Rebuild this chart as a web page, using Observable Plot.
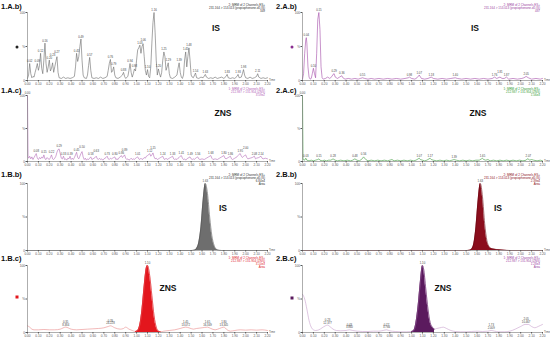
<!DOCTYPE html>
<html><head><meta charset="utf-8">
<script src="https://cdn.jsdelivr.net/npm/d3@7"></script>
<script src="https://cdn.jsdelivr.net/npm/@observablehq/plot@0.6"></script>
<style>
body{margin:0;background:#fff;}
#wrap{position:relative;width:550px;height:343px;overflow:hidden;font-family:"Liberation Sans",Arial,sans-serif;background:#fff;}
.panel{position:absolute;}
.lab{position:absolute;font-weight:bold;font-size:7.5px;color:#111;white-space:nowrap;line-height:8px;}
.cmp{position:absolute;font-weight:bold;font-size:8.5px;color:#111;transform:translate(-50%,-50%);}
.hdr{position:absolute;font-size:3px;line-height:3px;text-align:right;white-space:nowrap;}
.mk{position:absolute;width:3px;height:3px;transform:translate(-50%,-50%);}
</style></head><body><div id="wrap"></div>
<script>
// ---------- data ----------
const xTicks = [0,0.1,0.2,0.3,0.4,0.5,0.6,0.7,0.8,0.9,1.0,1.1,1.2,1.3,1.4,1.5,1.6,1.7,1.8,1.9,2.0,2.1,2.2];
const yTicks = [0,50,100];

// 1.A.b  blank, IS channel (grey)
const trace1Ab = [[0,3],[0.01,8],[0.02,25],[0.03,10],[0.04,4],[0.05,6],[0.06,5],[0.07,12],[0.08,18],[0.09,25],[0.10,15],[0.11,22],[0.12,40],[0.13,18],[0.14,10],[0.15,30],[0.16,55],[0.17,25],[0.18,12],[0.19,20],[0.20,30],[0.21,14],[0.22,18],[0.23,26],[0.24,12],[0.25,20],[0.26,28],[0.27,35],[0.28,12],[0.29,4],[0.31,3],[0.33,5],[0.35,3],[0.37,4],[0.39,3],[0.41,4],[0.43,6],[0.44,20],[0.45,40],[0.46,28],[0.47,35],[0.48,50],[0.49,61],[0.50,30],[0.51,8],[0.52,4],[0.54,3],[0.55,8],[0.56,22],[0.57,34],[0.58,15],[0.59,4],[0.61,3],[0.63,4],[0.65,3],[0.67,5],[0.69,3],[0.71,4],[0.73,6],[0.74,15],[0.75,25],[0.76,31],[0.77,12],[0.78,14],[0.79,20],[0.80,8],[0.81,4],[0.83,3],[0.85,5],[0.87,8],[0.88,12],[0.89,6],[0.90,3],[0.92,6],[0.93,15],[0.94,25],[0.95,12],[0.96,5],[0.97,10],[0.98,17],[0.99,14],[1.00,30],[1.01,45],[1.02,48],[1.03,52],[1.04,40],[1.05,50],[1.06,54],[1.07,35],[1.08,15],[1.09,8],[1.10,16],[1.11,6],[1.12,4],[1.13,20],[1.14,55],[1.15,85],[1.16,100],[1.17,70],[1.18,30],[1.19,8],[1.20,17],[1.21,10],[1.22,5],[1.23,12],[1.24,30],[1.25,42],[1.26,35],[1.27,15],[1.28,20],[1.29,26],[1.30,10],[1.31,4],[1.33,3],[1.35,5],[1.37,8],[1.38,18],[1.39,26],[1.40,12],[1.41,5],[1.42,3],[1.43,8],[1.44,30],[1.45,42],[1.46,20],[1.47,35],[1.48,48],[1.49,30],[1.50,8],[1.51,5],[1.52,4],[1.54,11],[1.55,4],[1.57,3],[1.59,5],[1.61,4],[1.63,9],[1.64,5],[1.66,3],[1.68,4],[1.70,3],[1.72,5],[1.74,3],[1.76,4],[1.78,5],[1.80,3],[1.82,6],[1.83,9],[1.84,4],[1.86,3],[1.88,4],[1.90,3],[1.92,6],[1.93,9],[1.94,4],[1.96,5],[1.97,10],[1.98,16],[1.99,8],[2.00,4],[2.02,3],[2.04,5],[2.06,3],[2.08,4],[2.10,6],[2.11,10],[2.12,5],[2.14,3],[2.16,4],[2.18,3],[2.20,4]];
const peaks1Ab = [[0.02,25],[0.09,25],[0.12,40],[0.16,55],[0.20,30],[0.23,26],[0.27,35],[0.45,40],[0.49,61],[0.57,34],[0.76,31],[0.79,20],[0.88,12],[0.94,25],[0.98,17],[1.03,52],[1.06,54],[1.10,16],[1.16,100],[1.20,17],[1.25,42],[1.29,26],[1.39,26],[1.45,42],[1.48,48],[1.54,11],[1.63,9],[1.83,9],[1.93,9],[1.98,16],[2.11,10]];
const header1Ab = ["2: MRM of 2 Channels ES+","231.164 > 153.013 (propiophenone-d5 IS)","349"];

// 2.A.b  sample, IS channel (purple)
const trace2Ab = [[0,2],[0.01,10],[0.02,40],[0.03,60],[0.035,63],[0.04,55],[0.05,20],[0.06,5],[0.07,2],[0.08,3],[0.09,10],[0.10,18],[0.11,10],[0.12,4],[0.13,40],[0.14,90],[0.15,100],[0.16,75],[0.17,20],[0.18,4],[0.19,2],[0.21,3],[0.23,5],[0.25,3],[0.27,6],[0.28,9],[0.29,10],[0.30,5],[0.32,3],[0.34,5],[0.36,7],[0.37,4],[0.39,2],[0.42,3],[0.45,2],[0.48,3],[0.51,2],[0.53,3],[0.55,4],[0.57,3],[0.60,2],[0.63,3],[0.66,2],[0.70,3],[0.74,2],[0.78,3],[0.82,2],[0.86,3],[0.90,2],[0.94,3],[0.97,4],[0.98,5],[1.00,3],[1.03,2],[1.05,4],[1.07,8],[1.09,3],[1.12,2],[1.15,3],[1.18,5],[1.20,3],[1.24,2],[1.28,3],[1.32,2],[1.36,3],[1.40,4],[1.42,3],[1.46,2],[1.50,3],[1.54,2],[1.58,3],[1.62,2],[1.66,3],[1.70,2],[1.74,3],[1.76,5],[1.78,3],[1.81,5],[1.83,3],[1.85,3],[1.87,5],[1.89,2],[1.93,3],[1.97,2],[2.01,3],[2.03,4],[2.05,6],[2.07,4],[2.10,2],[2.14,3],[2.18,2],[2.20,3]];
const peaks2Ab = [[0.035,63],[0.10,18],[0.15,100],[0.29,10],[0.36,7],[0.55,4],[0.98,5],[1.07,8],[1.18,5],[1.40,4],[1.76,5],[1.81,5],[1.87,5],[2.05,6]];
const header2Ab = ["2: MRM of 2 Channels ES+","231.164 > 153.013 (propiophenone-d5 IS)","487"];

// 1.A.c  blank, ZNS channel (purple)
const trace1Ac = [[0,100],[0.005,8],[0.01,5],[0.02,8],[0.03,4],[0.04,7],[0.05,3],[0.06,6],[0.07,9],[0.08,12],[0.09,5],[0.10,3],[0.11,6],[0.12,4],[0.13,7],[0.14,5],[0.15,10],[0.16,4],[0.17,3],[0.18,6],[0.19,4],[0.20,3],[0.21,6],[0.22,10],[0.23,4],[0.24,3],[0.25,5],[0.26,8],[0.27,14],[0.28,18],[0.29,19],[0.30,12],[0.31,5],[0.32,4],[0.33,8],[0.34,3],[0.35,4],[0.36,2],[0.37,5],[0.38,4],[0.39,8],[0.40,3],[0.41,5],[0.42,3],[0.43,6],[0.44,10],[0.45,14],[0.46,6],[0.47,4],[0.48,8],[0.49,12],[0.50,15],[0.51,7],[0.52,3],[0.53,5],[0.54,2],[0.55,4],[0.56,3],[0.57,5],[0.58,7],[0.59,3],[0.60,4],[0.61,5],[0.62,6],[0.63,8],[0.64,4],[0.65,3],[0.66,5],[0.67,3],[0.68,4],[0.69,2],[0.70,4],[0.71,5],[0.72,6],[0.73,8],[0.74,4],[0.75,3],[0.76,5],[0.77,4],[0.78,5],[0.79,6],[0.80,7],[0.81,3],[0.82,4],[0.83,3],[0.84,6],[0.85,7],[0.86,9],[0.87,6],[0.88,8],[0.89,10],[0.90,5],[0.91,3],[0.92,4],[0.93,2],[0.94,3],[0.95,5],[0.96,3],[0.97,4],[0.98,3],[0.99,5],[1.00,6],[1.01,7],[1.02,4],[1.03,3],[1.04,5],[1.05,3],[1.06,4],[1.07,6],[1.08,5],[1.09,8],[1.10,9],[1.11,10],[1.12,12],[1.13,8],[1.14,10],[1.15,13],[1.16,7],[1.17,4],[1.18,5],[1.19,3],[1.20,4],[1.21,5],[1.22,6],[1.23,7],[1.24,8],[1.25,4],[1.26,3],[1.27,5],[1.28,3],[1.29,4],[1.30,5],[1.31,6],[1.32,7],[1.33,8],[1.34,4],[1.35,3],[1.36,4],[1.37,3],[1.38,5],[1.39,6],[1.40,8],[1.41,9],[1.42,5],[1.43,3],[1.44,4],[1.45,2],[1.46,4],[1.47,5],[1.48,6],[1.49,7],[1.50,4],[1.51,3],[1.52,4],[1.53,3],[1.54,5],[1.55,6],[1.56,7],[1.57,4],[1.58,3],[1.60,4],[1.62,3],[1.64,5],[1.66,7],[1.68,9],[1.69,5],[1.70,3],[1.72,4],[1.74,3],[1.76,5],[1.78,7],[1.80,9],[1.81,5],[1.82,4],[1.84,6],[1.86,8],[1.87,4],[1.88,3],[1.90,5],[1.92,7],[1.93,9],[1.94,11],[1.95,12],[1.96,8],[1.97,6],[1.98,8],[1.99,9],[2.00,10],[2.01,6],[2.02,4],[2.04,5],[2.06,6],[2.08,8],[2.09,4],[2.10,5],[2.12,6],[2.14,8],[2.15,5],[2.16,4],[2.18,5],[2.20,4]];
const peaks1Ac = [[0,100],[0.08,12],[0.15,10],[0.22,10],[0.29,19],[0.33,8],[0.39,8],[0.45,14],[0.50,15],[0.58,7],[0.63,8],[0.73,8],[0.80,7],[0.86,9],[0.89,10],[1.01,7],[1.12,12],[1.15,13],[1.24,8],[1.33,8],[1.41,9],[1.49,7],[1.56,7],[1.68,9],[1.80,9],[1.86,8],[1.95,12],[2.00,10],[2.08,8],[2.14,8]];
const header1Ac = ["1: MRM of 2 Channels ES+","212.937 > 131.954 (ZNS)","3.59e2"];

// 2.A.c  sample, ZNS channel (green)
const trace2Ac = [[0,100],[0.005,3],[0.02,2],[0.03,5],[0.04,2],[0.06,1],[0.08,2],[0.10,1],[0.12,2],[0.14,3],[0.15,4],[0.16,2],[0.18,1],[0.20,2],[0.22,1],[0.24,2],[0.26,2],[0.28,4],[0.30,2],[0.32,1],[0.35,2],[0.38,1],[0.41,2],[0.44,1],[0.46,2],[0.48,4],[0.50,2],[0.52,1],[0.54,3],[0.56,7],[0.58,3],[0.60,1],[0.63,2],[0.66,1],[0.69,2],[0.72,1],[0.75,2],[0.78,1],[0.80,2],[0.82,3],[0.84,1],[0.87,2],[0.90,1],[0.93,2],[0.96,1],[0.99,2],[1.02,1],[1.04,2],[1.06,4],[1.07,5],[1.08,3],[1.10,2],[1.12,1],[1.14,2],[1.16,4],[1.17,5],[1.18,3],[1.20,2],[1.23,1],[1.26,2],[1.29,1],[1.32,2],[1.35,1],[1.37,2],[1.39,3],[1.41,2],[1.44,1],[1.47,2],[1.50,1],[1.53,2],[1.56,1],[1.59,2],[1.62,2],[1.64,4],[1.65,5],[1.66,3],[1.68,2],[1.70,3],[1.72,1],[1.75,2],[1.78,1],[1.81,2],[1.84,1],[1.87,2],[1.90,1],[1.93,2],[1.96,1],[1.99,2],[2.02,1],[2.05,2],[2.06,4],[2.07,4],[2.08,2],[2.10,3],[2.12,2],[2.15,1],[2.18,2],[2.20,1]];
const peaks2Ac = [[0,100],[0.03,5],[0.15,4],[0.28,4],[0.48,4],[0.56,7],[1.07,5],[1.17,5],[1.39,3],[1.65,5],[2.07,4]];
const header2Ac = ["1: MRM of 2 Channels ES+","212.937 > 131.954 (ZNS)","1.56e3"];

// 1.B.b  IS peak (grey fill)
const trace1Bb = [[0,0],[1.50,0],[1.53,0.5],[1.55,3],[1.57,12],[1.59,35],[1.61,75],[1.63,100],[1.65,85],[1.67,50],[1.69,22],[1.71,8],[1.73,2],[1.75,0.5],[1.78,0],[2.20,0]];
const peaks1Bb = [[1.63,100]];
const header1Bb = ["2: MRM of 2 Channels ES+","231.164 > 153.013 (propiophenone-d5 IS)","6.84e4","Area"];

// 2.B.b  IS peak (dark red fill)
const trace2Bb = [[0,0],[1.50,0],[1.53,0.3],[1.55,2],[1.57,10],[1.59,35],[1.61,75],[1.63,100],[1.65,80],[1.67,40],[1.69,15],[1.71,6],[1.73,3],[1.76,2],[1.80,1],[1.85,0.5],[1.90,0],[2.20,0]];
const peaks2Bb = [[1.63,100]];
const header2Bb = ["2: MRM of 2 Channels ES+","231.164 > 153.013 (propiophenone-d5 IS)","2.39e4","Area"];

// 1.B.c  ZNS peak (red fill)
const trace1Bc = [[0,10],[0.02,8],[0.04,5],[0.06,4],[0.10,4],[0.15,4.5],[0.20,4],[0.25,4],[0.30,5],[0.35,8],[0.40,5],[0.45,4],[0.50,4.5],[0.55,5],[0.60,5.5],[0.65,6],[0.70,7],[0.74,9],[0.76,10],[0.80,7],[0.85,5],[0.88,6],[0.90,8],[0.93,5],[0.96,3],[0.99,1.5],[1.01,3],[1.03,12],[1.05,35],[1.07,70],[1.09,97],[1.10,100],[1.12,85],[1.14,55],[1.16,25],[1.18,8],[1.20,2],[1.22,1],[1.25,2],[1.30,3],[1.35,4],[1.40,6],[1.45,8],[1.48,7],[1.52,5],[1.55,6],[1.60,7],[1.65,8],[1.68,6],[1.72,4],[1.76,6],[1.80,8],[1.83,4],[1.86,2],[1.90,3],[1.95,4],[2.00,3.5],[2.05,4],[2.10,3.5],[2.15,4],[2.20,3]];
const fill1Bc = [0.99, 1.22];
const peaks1Bc = [[0.35,8,"8.384"],[0.76,10,"24.228"],[1.10,100,""],[1.45,8,"13.072"],[1.65,8,"16.349"],[1.80,8,"13.345"]];
const header1Bc = ["1: MRM of 2 Channels ES+","212.937 > 131.954 (ZNS)","3.10e3","Area"];

// 2.B.c  ZNS peak (purple fill)
const trace2Bc = [[0,57],[0.02,50],[0.04,35],[0.06,18],[0.08,8],[0.10,4],[0.12,3],[0.15,4],[0.18,7],[0.21,10],[0.23,11],[0.25,9],[0.28,5],[0.31,3],[0.35,2.5],[0.40,3],[0.43,4],[0.46,3],[0.50,2],[0.55,1.5],[0.60,1.5],[0.65,2],[0.70,2],[0.74,3],[0.77,4],[0.80,2.5],[0.85,1.5],[0.90,1],[0.95,1],[1.00,1.5],[1.02,3],[1.04,15],[1.06,40],[1.08,75],[1.10,100],[1.11,95],[1.13,65],[1.15,35],[1.17,15],[1.19,8],[1.21,5],[1.23,6],[1.26,7],[1.29,8],[1.32,6],[1.36,3],[1.40,1.5],[1.45,1],[1.50,1],[1.55,1.5],[1.60,2],[1.65,1.5],[1.70,2],[1.73,3],[1.76,2],[1.80,1],[1.85,1],[1.90,2],[1.95,5],[2.00,9],[2.04,12],[2.07,12],[2.10,9],[2.13,7],[2.16,9],[2.20,12]];
const fill2Bc = [1.00, 1.21];
const peaks2Bc = [[0.23,11,"12.377"],[0.43,4,"3.860"],[0.77,4,"3.766"],[1.10,100,""],[1.73,3,"2.009"],[2.05,12,"10.467"]];
const header2Bc = ["1: MRM of 2 Channels ES+","212.937 > 131.954 (ZNS)","1.28e3","Area"];

// ---------- layout ----------
const wrap = document.getElementById("wrap");
const FONT = "'Liberation Sans', Arial, sans-serif";
const LABEL_FS = 2.8;

// place each peak label above its apex, pushing it up past any label it would collide with
function placeLabels(peaks, o) {
  const fh = o.h - o.mt - o.mb, fw = 275 - 27 - 8;
  const pxY = fh / 100, pxX = fw / 2.2;
  const placed = [];
  const out = [];
  for (const p of [...peaks].sort((a, b) => a[0] - b[0])) {
    const lines = p[2] ? 2 : 1;
    const w = (p[2] ? Math.max(4, p[2].length) : 4) * LABEL_FS * 0.56;
    const hgt = lines * LABEL_FS;
    const x = p[0] * pxX;
    let bottom = p[1] * pxY + 1.5;
    let moved = true;
    while (moved) {
      moved = false;
      for (const q of placed) {
        if (Math.abs(x - q.x) < (w + q.w) / 2 && bottom < q.bottom + q.h && bottom + hgt > q.bottom) {
          bottom = q.bottom + q.h + 0.2;
          moved = true;
        }
      }
    }
    placed.push({x, w, h: hgt, bottom});
    out.push([p[0], (bottom - 1.5) / pxY, p[2] ? p[0].toFixed(2) + "\n" + p[2] : p[0].toFixed(2)]);
  }
  return out;
}

function addPanel(o) {
  const fx = d => d[0], fy = d => d[1];
  const marks = [];
  if (o.fill) {
    const sub = o.fillRange ? o.trace.filter(d => d[0] >= o.fillRange[0] && d[0] <= o.fillRange[1]) : o.trace;
    marks.push(Plot.areaY(sub, {x: fx, y: fy, fill: o.fill, curve: o.curve}));
  }
  marks.push(Plot.line(o.trace, {x: fx, y: fy, stroke: o.stroke, strokeWidth: o.sw || 0.6, curve: o.curve}));
  if (o.fill && o.fillRange) {
    const sub = o.trace.filter(d => d[0] >= o.fillRange[0] && d[0] <= o.fillRange[1]);
    marks.push(Plot.line(sub, {x: fx, y: fy, stroke: o.fill, strokeWidth: 0.6, curve: o.curve}));
  }
  marks.push(Plot.ruleY([0], {stroke: "#777", strokeWidth: 0.6}));
  marks.push(Plot.ruleX([0], {stroke: "#777", strokeWidth: 0.6}));
  marks.push(Plot.axisX({ticks: xTicks, tickFormat: d => d.toFixed(2), tickSize: 1.5, tickPadding: 0.5, fontSize: 3.2, color: "#555", label: null}));
  marks.push(Plot.axisY({ticks: yTicks, tickFormat: d => d === 50 ? "%" : String(d), tickSize: 1.5, tickPadding: 1, fontSize: 3.2, color: "#555", label: null}));
  const labels = placeLabels(o.peaks, o);
  marks.push(Plot.text(labels, {x: d => d[0], y: d => d[1], text: d => d[2], dy: -1.5, lineAnchor: "bottom", fontSize: LABEL_FS, fill: "#444"}));
  marks.push(Plot.text(["Time"], {frameAnchor: "bottom-right", text: d => d, textAnchor: "start", lineAnchor: "middle", dx: 1.5, dy: 0, fontSize: 2.8, fill: "#555"}));
  const svg = Plot.plot({
    width: 275, height: o.h,
    marginLeft: 27, marginRight: 8, marginTop: o.mt, marginBottom: o.mb,
    x: {domain: [0, 2.2]},
    y: {domain: [0, 100]},
    style: {fontFamily: FONT, background: "transparent", overflow: "visible"},
    marks
  });
  const div = document.createElement("div");
  div.className = "panel";
  div.style.left = o.left + "px";
  div.style.top = o.top + "px";
  div.appendChild(svg);
  wrap.appendChild(div);

  const lab = document.createElement("div");
  lab.className = "lab";
  lab.textContent = o.label;
  lab.style.left = (o.left + 1) + "px";
  lab.style.top = o.labTop + "px";
  wrap.appendChild(lab);

  const cmp = document.createElement("div");
  cmp.className = "cmp";
  cmp.textContent = o.cmp;
  cmp.style.left = o.cmpX + "px";
  cmp.style.top = o.cmpY + "px";
  wrap.appendChild(cmp);

  const hdr = document.createElement("div");
  hdr.className = "hdr";
  hdr.innerHTML = o.header.join("<br>");
  hdr.style.right = (550 - (o.left + 265)) + "px";
  hdr.style.top = o.hdrTop + "px";
  hdr.style.color = o.hdrColor;
  wrap.appendChild(hdr);

  if (o.mark) {
    const mk = document.createElement("div");
    mk.className = "mk";
    mk.style.left = (o.left + 17) + "px";
    mk.style.top = o.markY + "px";
    mk.style.background = o.mark;
    if (o.round) mk.style.borderRadius = "50%";
    wrap.appendChild(mk);
  }
}

addPanel({label: "1.A.b)", cmp: "IS", trace: trace1Ab, peaks: peaks1Ab, header: header1Ab, stroke: "#6a6a6a", curve: "linear",
  left: 0, top: 0, h: 88, mt: 12, mb: 8, labTop: 3, cmpX: 216, cmpY: 28, hdrTop: 4, hdrColor: "#333", mark: "#222", markY: 47, round: true});
addPanel({label: "2.A.b)", cmp: "IS", trace: trace2Ab, peaks: peaks2Ab, header: header2Ab, stroke: "#a24aa8", curve: "linear",
  left: 275, top: 0, h: 88, mt: 12, mb: 8, labTop: 3, cmpX: 475, cmpY: 28, hdrTop: 4, hdrColor: "#9b3fa0", mark: "#8a2d90", markY: 47, round: true});
addPanel({label: "1.A.c)", cmp: "ZNS", trace: trace1Ac, peaks: peaks1Ac, header: header1Ac, stroke: "#b36cb8", curve: "linear",
  left: 0, top: 88, h: 81, mt: 7, mb: 8, labTop: 86.5, cmpX: 223, cmpY: 113, hdrTop: 88, hdrColor: "#b05cb5"});
addPanel({label: "2.A.c)", cmp: "ZNS", trace: trace2Ac, peaks: peaks2Ac, header: header2Ac, stroke: "#3a9a3a", curve: "linear",
  left: 275, top: 88, h: 81, mt: 7, mb: 8, labTop: 86.5, cmpX: 478, cmpY: 113, hdrTop: 88, hdrColor: "#2e9a2e"});
addPanel({label: "1.B.b)", cmp: "IS", trace: trace1Bb, peaks: peaks1Bb, header: header1Bb, stroke: "#555", fill: "#6e6e6e", curve: "monotone-x",
  left: 0, top: 170, h: 88, mt: 13, mb: 8, labTop: 171, cmpX: 223, cmpY: 208, hdrTop: 174, hdrColor: "#333"});
addPanel({label: "2.B.b)", cmp: "IS", trace: trace2Bb, peaks: peaks2Bb, header: header2Bb, stroke: "#6a0a14", fill: "#8b0d1c", curve: "monotone-x",
  left: 275, top: 170, h: 88, mt: 13, mb: 8, labTop: 171, cmpX: 498, cmpY: 208, hdrTop: 174, hdrColor: "#8b1020"});
addPanel({label: "1.B.c)", cmp: "ZNS", trace: trace1Bc, peaks: peaks1Bc, header: header1Bc, stroke: "#e98a8a", fill: "#e3161d", fillRange: fill1Bc, curve: "monotone-x",
  left: 0, top: 258, h: 85, mt: 7, mb: 11, labTop: 255, cmpX: 168, cmpY: 288, hdrTop: 257, hdrColor: "#e0202a", mark: "#e3161d", markY: 297});
addPanel({label: "2.B.c)", cmp: "ZNS", trace: trace2Bc, peaks: peaks2Bc, header: header2Bc, stroke: "#c8a0cc", fill: "#5b1a5e", fillRange: fill2Bc, curve: "monotone-x",
  left: 275, top: 258, h: 85, mt: 7, mb: 11, labTop: 255, cmpX: 443, cmpY: 298 - 10, hdrTop: 257, hdrColor: "#9b3fa0", mark: "#5b1a5e", markY: 298});
</script></body></html>
